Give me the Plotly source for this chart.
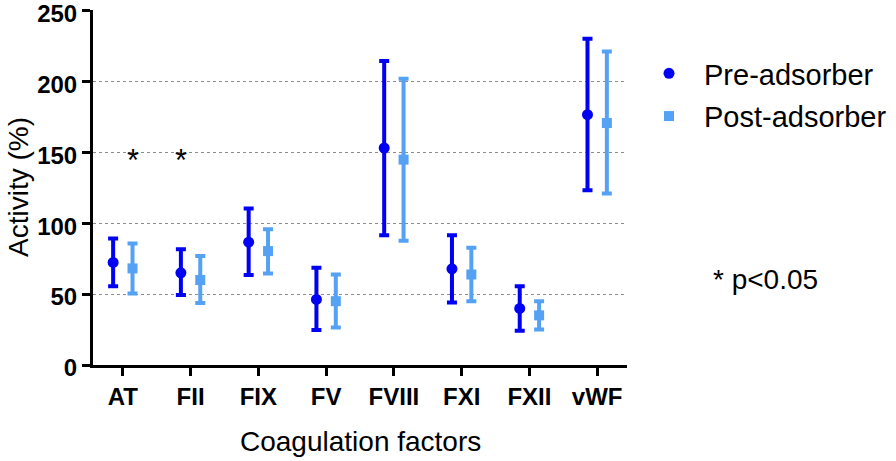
import plotly.graph_objects as go

categories = ["AT", "FII", "FIX", "FV", "FVIII", "FXI", "FXII", "vWF"]
pre_mean = [72.3, 65.0, 86.6, 46.2, 153.0, 67.8, 39.9, 176.5]
pre_upper = [89.2, 81.7, 110.3, 68.5, 214.3, 91.5, 55.6, 230.0]
pre_lower = [55.6, 49.3, 63.4, 24.6, 91.5, 44.1, 24.2, 123.2]
post_mean = [68.1, 59.9, 80.3, 45.0, 144.8, 63.8, 35.0, 170.6]
post_upper = [85.7, 76.8, 95.8, 63.8, 201.9, 82.6, 45.0, 221.1]
post_lower = [50.5, 43.7, 64.6, 26.5, 87.6, 45.0, 25.1, 120.9]
# significance markers: (category, series side)
sig_marks = [("AT", "post"), ("FII", "pre")]
sig_y = 146.7
y_ticks = [0, 50, 100, 150, 200, 250]

PRE_COLOR = "#0000F5"
POST_COLOR = "#55A2F5"
OFFSET = 0.143
FONT = "Liberation Sans, Arial, sans-serif"

idx = list(range(len(categories)))
x_pre = [i - OFFSET for i in idx]
x_post = [i + OFFSET for i in idx]

fig = go.Figure()
fig.add_trace(go.Scatter(
    x=x_pre, y=pre_mean, mode="markers", name="Pre-adsorber",
    legendgroup="a",
    marker=dict(symbol="circle", size=11, color=PRE_COLOR),
    error_y=dict(type="data", symmetric=False,
                 array=[u - m for u, m in zip(pre_upper, pre_mean)],
                 arrayminus=[m - l for m, l in zip(pre_mean, pre_lower)],
                 color=PRE_COLOR, thickness=4, width=5),
))
fig.add_trace(go.Scatter(
    x=x_post, y=post_mean, mode="markers", name="Post-adsorber",
    legendgroup="b",
    marker=dict(symbol="square", size=10, color=POST_COLOR),
    error_y=dict(type="data", symmetric=False,
                 array=[u - m for u, m in zip(post_upper, post_mean)],
                 arrayminus=[m - l for m, l in zip(post_mean, post_lower)],
                 color=POST_COLOR, thickness=4, width=5),
))

annotations = []
for cat, side in sig_marks:
    i = categories.index(cat)
    xs = i + OFFSET if side == "post" else i - OFFSET
    annotations.append(dict(x=xs, y=sig_y, xref="x", yref="y", text="*",
                            showarrow=False, yanchor="middle", yshift=-4,
                            font=dict(family=FONT, size=31, color="black")))
annotations.append(dict(x=(18 - 93) / 534, y=(365 - 187) / 355, xref="paper", yref="paper",
                        text="Activity (%)", textangle=-90, showarrow=False,
                        xanchor="center", yanchor="middle",
                        font=dict(family=FONT, size=28, color="black")))
annotations.append(dict(x=0.5, y=0, xref="paper", yref="paper",
                        text="Coagulation factors", showarrow=False,
                        xanchor="center", yanchor="middle", yshift=-76,
                        font=dict(family=FONT, size=28, color="black")))
annotations.append(dict(x=(711 - 93) / 534, y=(365 - 279) / 355, xref="paper", yref="paper",
                        text="* p<0.05", showarrow=False,
                        xanchor="left", yanchor="middle",
                        font=dict(family=FONT, size=28, color="black")))

fig.update_layout(
    width=896, height=461,
    margin=dict(l=93, r=269, t=10, b=96, autoexpand=False),
    plot_bgcolor="white", paper_bgcolor="white",
    font=dict(family=FONT, color="black"),
    annotations=annotations,
    showlegend=True,
    legend=dict(x=(634 - 93) / 534, y=(365 - 48) / 355, xanchor="left", yanchor="top",
                font=dict(family=FONT, size=29, color="black"),
                itemwidth=60,
                tracegroupgap=2, bgcolor="rgba(0,0,0,0)"),
    xaxis=dict(range=[-0.44, len(categories) - 1 + 0.44],
               tickmode="array", tickvals=idx, ticktext=categories,
               showgrid=False, zeroline=False,
               showline=True, linecolor="black", linewidth=3,
               ticks="outside", ticklen=8, tickwidth=3, tickcolor="black",
               ticklabeloverflow="allow",
               tickfont=dict(family=FONT, size=24, color="black", weight="bold")),
    yaxis=dict(range=[0, 250.3], tickmode="array", tickvals=y_ticks,
               showgrid=True, gridcolor="#8c8c8c", griddash="dot", gridwidth=1,
               zeroline=False,
               showline=True, linecolor="black", linewidth=3,
               ticks="outside", ticklen=8, tickwidth=3, tickcolor="black",
               ticklabeloverflow="allow", ticklabelshift=3,
               tickfont=dict(family=FONT, size=24, color="black", weight="bold")),
)

fig.write_html("out.html", config={"displayModeBar": False},
               post_script="document.body.style.margin='0';document.body.style.overflow='hidden';")
